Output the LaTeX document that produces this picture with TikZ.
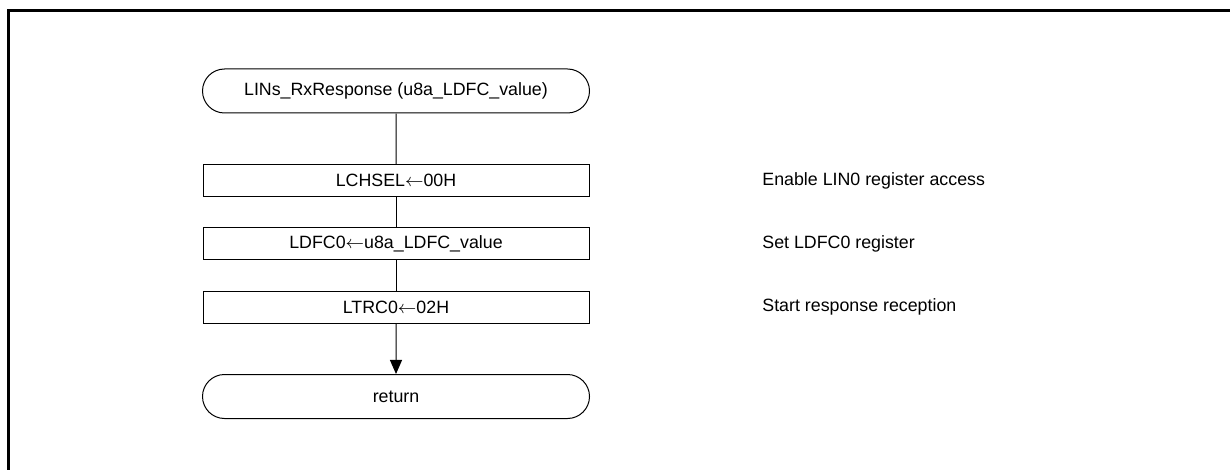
\documentclass[tikz,border=0pt]{standalone}
\usepackage{fontspec}
\setmainfont{Liberation Sans}
\usepackage{xcolor}
\usepackage{tikz}
\usetikzlibrary{shapes.misc,arrows.meta}
\definecolor{ink}{HTML}{000000}
\newcommand{\regset}{\ensuremath{\leftarrow}}
\tikzset{
  frame/.style={draw=ink, line width=1.5pt},
  term/.style={draw=ink, line width=0.5pt, rounded rectangle, minimum width=193.5pt, minimum height=22pt, inner sep=0pt, font=\fontsize{8.9pt}{10.7pt}\selectfont},
  proc/.style={draw=ink, line width=0.5pt, rectangle, minimum width=193pt, minimum height=16pt, inner sep=0pt, font=\fontsize{8.9pt}{10.7pt}\selectfont},
  note/.style={anchor=west, inner sep=0pt, text=ink, font=\fontsize{8.9pt}{10.7pt}\selectfont},
  flow/.style={draw=ink, line width=0.5pt},
  flowarr/.style={flow, -{Triangle[length=7pt,width=6pt]}},
}
\begin{document}
\begin{tikzpicture}[x=0.5pt,y=-0.5pt]
  \useasboundingbox (0,0) rectangle (1230,470);
  % outer frame (top and left edge only)
  \draw[frame] (1232,10.5) -| (8.5,472);
  % flow
  \node[term] (start) at (396,91) {LINs\_RxResponse (u8a\_LDFC\_value)};
  \node[proc] (chsel) at (396,180.5) {LCHSEL\regset00H};
  \node[proc] (ldfc)  at (396,243.5) {LDFC0\regset u8a\_LDFC\_value};
  \node[proc] (ltrc)  at (396,307) {LTRC0\regset02H};
  \node[term] (ret)   at (396,396.5) {return};
  \draw[flow] (start) -- (chsel);
  \draw[flow] (chsel) -- (ldfc);
  \draw[flow] (ldfc) -- (ltrc);
  \draw[flowarr] (ltrc) -- (ret);
  % comments
  \node[note] (noteA) at (762,180.5) {Enable LIN0 register access};
  \node[note] (noteB) at (762,243.5) {Set LDFC0 register};
  \node[note] (noteC) at (762,307) {Start response reception};
\end{tikzpicture}
\end{document}
